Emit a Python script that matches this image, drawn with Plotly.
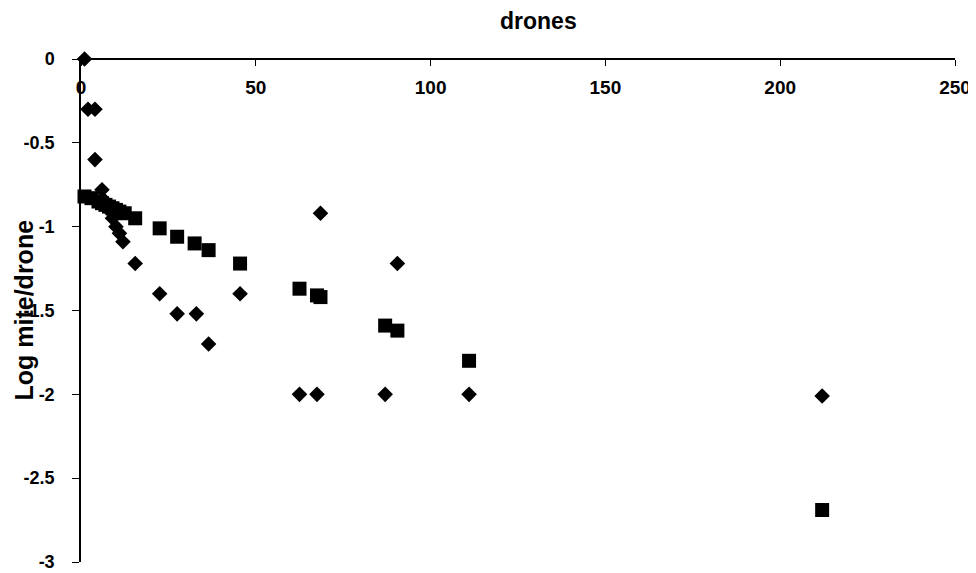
import plotly.graph_objects as go

# Diamond series (drones, log mite/drone)
diamond_x = [1, 2, 4, 4, 6, 7, 8, 9, 10, 11, 12, 15.5, 22.5, 27.5, 33, 36.5, 45.5,
             62.5, 67.5, 68.5, 87, 90.5, 111, 212]
diamond_y = [0, -0.30, -0.30, -0.60, -0.78, -0.85, -0.90, -0.95, -1.0, -1.04, -1.09, -1.22,
             -1.40, -1.52, -1.52, -1.70, -1.40, -2.0, -2.0, -0.92, -2.0, -1.22, -2.0, -2.01]

# Square series
square_x = [1, 3, 5, 6, 7, 8, 9, 10, 11, 12.5, 15.5, 22.5, 27.5, 32.5, 36.5, 45.5,
            62.5, 67.5, 68.5, 87, 90.5, 111, 212]
square_y = [-0.82, -0.83, -0.85, -0.86, -0.87, -0.88, -0.89, -0.90, -0.91, -0.92, -0.95,
            -1.01, -1.06, -1.10, -1.14, -1.22, -1.37, -1.41, -1.42, -1.59, -1.62, -1.80, -2.69]

x_ticks = [0, 50, 100, 150, 200, 250]
y_ticks = [0, -0.5, -1, -1.5, -2, -2.5, -3]
y_tick_text = ["0", "-0.5", "-1", "-1.5", "-2", "-2.5", "-3"]

FONT = "Liberation Sans, Arial, sans-serif"

fig = go.Figure()
fig.add_trace(go.Scatter(x=diamond_x, y=diamond_y, mode="markers",
                         marker=dict(symbol="diamond", size=12, color="black"),
                         cliponaxis=False, showlegend=False))
fig.add_trace(go.Scatter(x=square_x, y=square_y, mode="markers",
                         marker=dict(symbol="square", size=14, color="black"),
                         cliponaxis=False, showlegend=False))

fig.update_layout(
    width=976, height=573,
    margin=dict(l=73, r=29, t=51, b=19),
    paper_bgcolor="white", plot_bgcolor="white",
    font=dict(family=FONT, color="black"),
    xaxis=dict(range=[0, 250], tickvals=x_ticks, ticks="outside", ticklen=6,
               tickcolor="black", showline=True, linecolor="black", linewidth=1.5,
               showgrid=False, zeroline=False, anchor="free", position=1, side="bottom",
               automargin=False, ticklabelstandoff=5,
               tickfont=dict(size=19, family=FONT, weight="bold")),
    yaxis=dict(range=[-3, 0], tickvals=y_ticks, ticktext=y_tick_text, ticks="outside",
               ticklen=7, tickcolor="black", showline=True, linecolor="black", linewidth=1.5,
               showgrid=False, zeroline=False, automargin=False, ticklabelstandoff=14,
               tickfont=dict(size=18, family=FONT, weight="bold")),
    annotations=[
        dict(text="drones", x=0.524, y=1, xref="paper", yref="paper", xanchor="center",
             yanchor="middle", yshift=38, showarrow=False,
             font=dict(size=23, family=FONT, weight="bold")),
        dict(text="Log mite/drone", x=0, y=0.5, xref="paper", yref="paper",
             xanchor="center", yanchor="middle", xshift=-58, textangle=-90, showarrow=False,
             font=dict(size=25, family=FONT, weight="bold")),
    ],
)

fig.write_html("out.html")
